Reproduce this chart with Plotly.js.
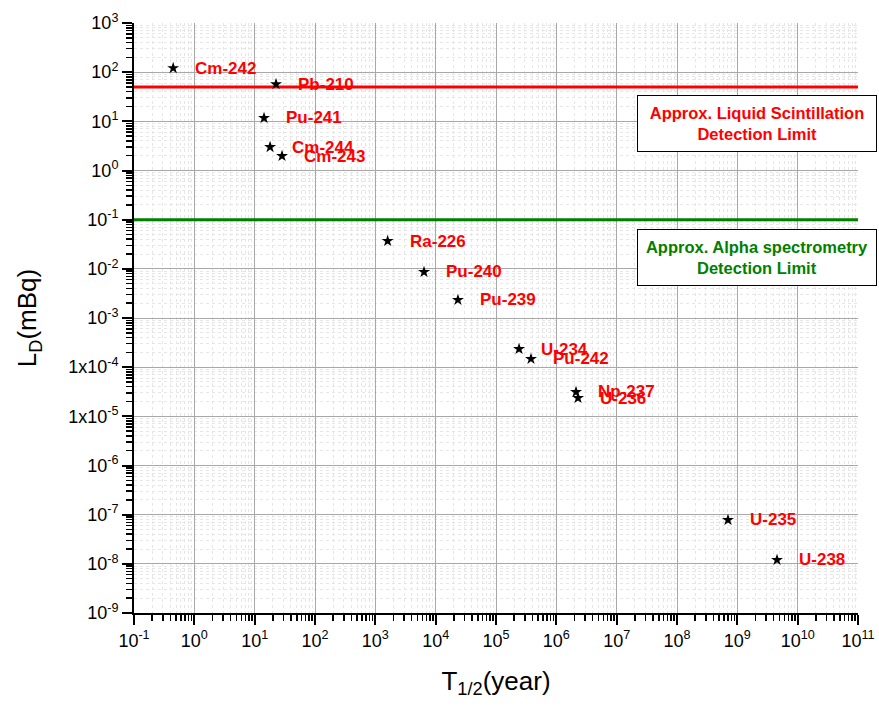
<!DOCTYPE html>
<html>
<head>
<meta charset="utf-8">
<script src="https://cdn.plot.ly/plotly-3.0.1.min.js"></script>
<style>
  html, body { margin: 0; padding: 0; background: #ffffff; }
  #chart { width: 879px; height: 707px; }
</style>
</head>
<body>
<div id="chart"></div>
<script>
// Nuclides, their half-lives (years) and detection limits L_D (mBq)
const nuclides = ["Cm-242", "Pb-210", "Pu-241", "Cm-244", "Cm-243", "Ra-226", "Pu-240",
                  "Pu-239", "U-234", "Pu-242", "Np-237", "U-236", "U-235", "U-238"];
const halfLifeYears = [0.446, 22.6, 14.3, 18.0, 28.4, 1600, 6410,
                       23400, 241000, 380000, 2.12e6, 2.29e6, 7.0e8, 4.55e9];
const detectionLimit = [121, 57, 11.7, 3.0, 1.97, 0.0368, 0.00863,
                        0.00233, 2.34e-4, 1.47e-4, 3.13e-5, 2.36e-5, 7.8e-8, 1.2e-8];

// Approximate instrument detection limits (mBq)
const limitNames = ["Approx. Liquid Scintillation<br>Detection Limit",
                    "Approx. Alpha spectrometry<br>Detection Limit"];
const limitValues = [50, 0.1];
const limitColors = ["#ff0000", "#008000"];

// Axis ticks
const xTickVals = [1e-1, 1e0, 1e1, 1e2, 1e3, 1e4, 1e5, 1e6, 1e7, 1e8, 1e9, 1e10, 1e11];
const xTickText = ["10<sup>-1</sup>", "10<sup>0</sup>", "10<sup>1</sup>", "10<sup>2</sup>",
                   "10<sup>3</sup>", "10<sup>4</sup>", "10<sup>5</sup>", "10<sup>6</sup>",
                   "10<sup>7</sup>", "10<sup>8</sup>", "10<sup>9</sup>", "10<sup>10</sup>",
                   "10<sup>11</sup>"];
const yTickVals = [1e-9, 1e-8, 1e-7, 1e-6, 1e-5, 1e-4, 1e-3, 1e-2, 1e-1, 1e0, 1e1, 1e2, 1e3];
const yTickText = ["10<sup>-9</sup>", "10<sup>-8</sup>", "10<sup>-7</sup>", "10<sup>-6</sup>",
                   "1x10<sup>-5</sup>", "1x10<sup>-4</sup>", "10<sup>-3</sup>", "10<sup>-2</sup>",
                   "10<sup>-1</sup>", "10<sup>0</sup>", "10<sup>1</sup>", "10<sup>2</sup>",
                   "10<sup>3</sup>"];

// minor ticks at 2..9 within every decade
function minorTicks(decades) {
  const out = [];
  decades.forEach(d => { for (let k = 2; k <= 9; k++) out.push(k * d); });
  return out;
}

const FONT = "Liberation Sans, Arial, sans-serif";

const traces = [];

// detection-limit lines across the full half-life range
limitValues.forEach((v, i) => {
  traces.push({
    x: [xTickVals[0], xTickVals[xTickVals.length - 1]],
    y: [v, v],
    mode: "lines",
    line: { color: limitColors[i], width: 3 },
    hoverinfo: "skip",
    cliponaxis: true
  });
});

traces.push({
  x: halfLifeYears,
  y: detectionLimit,
  text: nuclides,
  mode: "markers",
  marker: { symbol: "star", size: 9, color: "#000000" },
  cliponaxis: false
});

const annotations = nuclides.map((n, i) => ({
  x: Math.log10(halfLifeYears[i]),
  y: Math.log10(detectionLimit[i]),
  xref: "x", yref: "y",
  text: n,
  showarrow: false,
  xanchor: "left", yanchor: "middle",
  xshift: 20,
  font: { family: FONT, size: 17, color: "#ff0000", weight: "bold" }
}));

const boxY = [0.8297, 0.6025];
limitNames.forEach((t, i) => {
  annotations.push({
    x: 0.8605, y: boxY[i],
    xref: "paper", yref: "paper",
    xanchor: "center", yanchor: "middle",
    text: t,
    showarrow: false,
    width: 234, height: 51,
    bgcolor: "#ffffff",
    bordercolor: "#000000", borderwidth: 1, borderpad: 2,
    font: { family: FONT, size: 16.5, color: limitColors[i], weight: "bold" }
  });
});

const axisCommon = {
  type: "log",
  tickmode: "array",
  showline: true, linecolor: "#000000", linewidth: 2,
  ticks: "outside", ticklen: 10, tickwidth: 2, tickcolor: "#000000",
  showgrid: true, gridcolor: "#a8a8a8", gridwidth: 1,
  zeroline: false, mirror: false,
  tickfont: { family: FONT, size: 18, color: "#000000" }
};

const minorCommon = {
  ticks: "outside", ticklen: 6, tickwidth: 1.5, tickcolor: "#000000",
  showgrid: true, gridcolor: "#e6e6e6", griddash: "dot", gridwidth: 1
};

const layout = {
  width: 879, height: 707,
  margin: { l: 134, r: 21, t: 23, b: 94 },
  paper_bgcolor: "#ffffff", plot_bgcolor: "#ffffff",
  showlegend: false,
  font: { family: FONT, color: "#000000" },
  xaxis: Object.assign({}, axisCommon, {
    range: [-1, 11],
    tickvals: xTickVals, ticktext: xTickText,
    minor: Object.assign({ tickvals: minorTicks(xTickVals.slice(0, -1)) }, minorCommon),
    title: { text: "T<sub>1/2</sub>(year)", font: { family: FONT, size: 26 }, standoff: 22 }
  }),
  yaxis: Object.assign({}, axisCommon, {
    range: [-9, 3],
    tickvals: yTickVals, ticktext: yTickText,
    minor: Object.assign({ tickvals: minorTicks(yTickVals.slice(0, -1)) }, minorCommon),
    title: { text: "L<sub>D</sub>(mBq)", font: { family: FONT, size: 26 }, standoff: 24 }
  }),
  annotations: annotations
};

Plotly.newPlot("chart", traces, layout, { displayModeBar: false, staticPlot: true });
</script>
</body>
</html>
